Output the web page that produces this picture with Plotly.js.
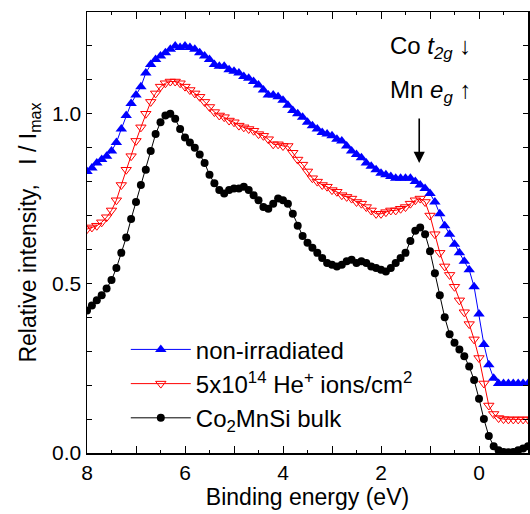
<!DOCTYPE html>
<html>
<head>
<meta charset="utf-8">
<script src="https://cdn.plot.ly/plotly-3.0.1.min.js"></script>
<style>html,body{margin:0;padding:0;background:#fff;}#chart{width:530px;height:514px;}</style>
</head>
<body>
<div id="chart"></div>
<script>
const energy = [8.0,7.9,7.8,7.7,7.6,7.5,7.4,7.3,7.2,7.1,7.0,6.9,6.8,6.7,6.6,6.5,6.4,6.3,6.2,6.1,6.0,5.9,5.8,5.7,5.6,5.5,5.4,5.3,5.2,5.1,5.0,4.9,4.8,4.7,4.6,4.5,4.4,4.3,4.2,4.1,4.0,3.9,3.8,3.7,3.6,3.5,3.4,3.3,3.2,3.1,3.0,2.9,2.8,2.7,2.6,2.5,2.4,2.3,2.2,2.1,2.0,1.9,1.8,1.7,1.6,1.5,1.4,1.3,1.2,1.1,1.0,0.9,0.8,0.7,0.6,0.5,0.4,0.3,0.2,0.1,0.0,-0.1,-0.2,-0.3,-0.4,-0.5,-0.6,-0.7,-0.8,-0.9,-1.0];

const nonIrradiated = [0.83,0.84,0.855,0.865,0.875,0.89,0.915,0.955,0.995,1.03,1.055,1.08,1.12,1.145,1.16,1.17,1.18,1.19,1.2,1.195,1.2,1.195,1.19,1.18,1.17,1.16,1.145,1.14,1.14,1.13,1.125,1.12,1.11,1.105,1.095,1.085,1.07,1.055,1.055,1.05,1.04,1.025,1.01,1.0,0.99,0.975,0.965,0.955,0.945,0.94,0.935,0.925,0.92,0.905,0.89,0.88,0.87,0.855,0.845,0.835,0.825,0.82,0.815,0.81,0.81,0.81,0.81,0.8,0.79,0.78,0.765,0.74,0.705,0.67,0.645,0.615,0.59,0.565,0.54,0.49,0.41,0.32,0.26,0.22,0.205,0.205,0.205,0.205,0.205,0.205,0.205];

const irradiated = [0.66,0.665,0.67,0.68,0.695,0.715,0.745,0.79,0.835,0.875,0.92,0.96,1.0,1.035,1.06,1.08,1.09,1.095,1.095,1.09,1.08,1.07,1.06,1.05,1.035,1.02,1.005,0.995,0.99,0.98,0.975,0.965,0.96,0.955,0.95,0.94,0.935,0.925,0.91,0.91,0.905,0.905,0.885,0.865,0.85,0.83,0.81,0.8,0.79,0.785,0.775,0.77,0.76,0.755,0.75,0.74,0.735,0.725,0.715,0.705,0.705,0.71,0.715,0.715,0.72,0.725,0.735,0.745,0.75,0.74,0.7,0.645,0.59,0.55,0.525,0.49,0.45,0.415,0.38,0.335,0.28,0.205,0.14,0.115,0.103,0.1,0.099,0.099,0.099,0.099,0.099];

const bulk = [0.42,0.435,0.45,0.465,0.485,0.51,0.545,0.59,0.635,0.69,0.74,0.79,0.835,0.89,0.94,0.975,0.995,1.0,0.985,0.955,0.93,0.915,0.9,0.88,0.855,0.82,0.795,0.775,0.765,0.775,0.78,0.78,0.785,0.775,0.76,0.745,0.725,0.72,0.735,0.75,0.745,0.735,0.705,0.67,0.64,0.62,0.605,0.59,0.575,0.56,0.555,0.55,0.555,0.565,0.57,0.56,0.565,0.56,0.55,0.545,0.54,0.535,0.545,0.56,0.575,0.59,0.625,0.655,0.665,0.645,0.595,0.53,0.465,0.4,0.35,0.325,0.305,0.285,0.255,0.215,0.16,0.1,0.05,0.02,0.008,0.003,0.002,0.003,0.008,0.013,0.02];

const seriesNames = ['non-irradiated', '5x10<sup>14</sup> He<sup>+</sup> ions/cm<sup>2</sup>', 'Co<sub>2</sub>MnSi bulk'];
const xTickVals = [8, 7, 6, 5, 4, 3, 2, 1, 0, -1];
const xTickText = ['8', '', '6', '', '4', '', '2', '', '0', ''];
const yTickVals = [0, 0.5, 1.0];
const yTickText = ['0.0', '0.5', '1.0'];
const arrowEnergy = 1.22;
const arrowIntensity = 0.855;

const FONT = 'Arial, "Liberation Sans", sans-serif';

const traces = [
  {x: energy, y: nonIrradiated, name: seriesNames[0], type: 'scatter', mode: 'lines+markers',
   line: {color: '#0000ff', width: 1}, marker: {symbol: 'triangle-up', size: 10, color: '#0000ff'}},
  {x: energy, y: irradiated, name: seriesNames[1], type: 'scatter', mode: 'lines+markers',
   line: {color: '#ff0000', width: 1}, marker: {symbol: 'triangle-down-open', size: 9, color: '#ff0000', line: {width: 1}}},
  {x: energy, y: bulk, name: seriesNames[2], type: 'scatter', mode: 'lines+markers',
   line: {color: '#000000', width: 1}, marker: {symbol: 'circle', size: 8, color: '#000000'}}
];

const layout = {
  width: 530, height: 514,
  margin: {l: 87, r: 2, t: 12, b: 61},
  paper_bgcolor: '#fff', plot_bgcolor: '#fff',
  font: {family: FONT, color: '#000', size: 21},
  showlegend: true,
  legend: {x: 0.088, y: 0.285, xanchor: 'left', yanchor: 'top', bgcolor: 'rgba(0,0,0,0)',
           font: {family: FONT, size: 24, color: '#000'}, itemwidth: 60, tracegroupgap: 0},
  xaxis: {range: [8, -1], autorange: false, tickvals: xTickVals, ticktext: xTickText,
          ticks: 'inside', ticklen: 7, tickwidth: 1, tickcolor: '#000',
          minor: {dtick: 0.5, ticks: 'inside', ticklen: 3, tickwidth: 1, tickcolor: '#000'},
          showline: true, linecolor: '#000', linewidth: 1.5, mirror: 'allticks',
          showgrid: false, zeroline: false,
          tickfont: {family: FONT, size: 21, color: '#000'},
          title: {text: 'Binding energy (eV)', font: {family: FONT, size: 23, color: '#000'}, standoff: 5}},
  yaxis: {range: [0, 1.3], autorange: false, tickvals: yTickVals, ticktext: yTickText,
          ticks: 'inside', ticklen: 5, tickwidth: 1, tickcolor: '#000',
          minor: {dtick: 0.1, ticks: 'inside', ticklen: 5, tickwidth: 1, tickcolor: '#000'},
          showline: true, linecolor: '#000', linewidth: 1.5, mirror: 'allticks',
          showgrid: false, zeroline: false,
          tickfont: {family: FONT, size: 21, color: '#000'},
          title: {text: 'Relative intensity,   I / I<sub>max</sub>', font: {family: FONT, size: 23, color: '#000'}, standoff: 9}},
  annotations: [
    {xref: 'x', yref: 'y', x: arrowEnergy, y: arrowIntensity, ax: 0, ay: -46,
     showarrow: true, arrowhead: 2, arrowsize: 1.4, arrowwidth: 1.6, arrowcolor: '#000', text: ''},
    {xref: 'x', yref: 'y', x: 1.0, y: 1.195, xanchor: 'center', yanchor: 'middle', showarrow: false,
     text: 'Co <i>t</i><sub><i>2g</i></sub> ↓', font: {family: FONT, size: 24, color: '#000'}},
    {xref: 'x', yref: 'y', x: 1.0, y: 1.065, xanchor: 'center', yanchor: 'middle', showarrow: false,
     text: 'Mn <i>e</i><sub><i>g</i></sub> ↑', font: {family: FONT, size: 24, color: '#000'}}
  ]
};

Plotly.newPlot('chart', traces, layout, {displayModeBar: false, staticPlot: true});
</script>
</body>
</html>
